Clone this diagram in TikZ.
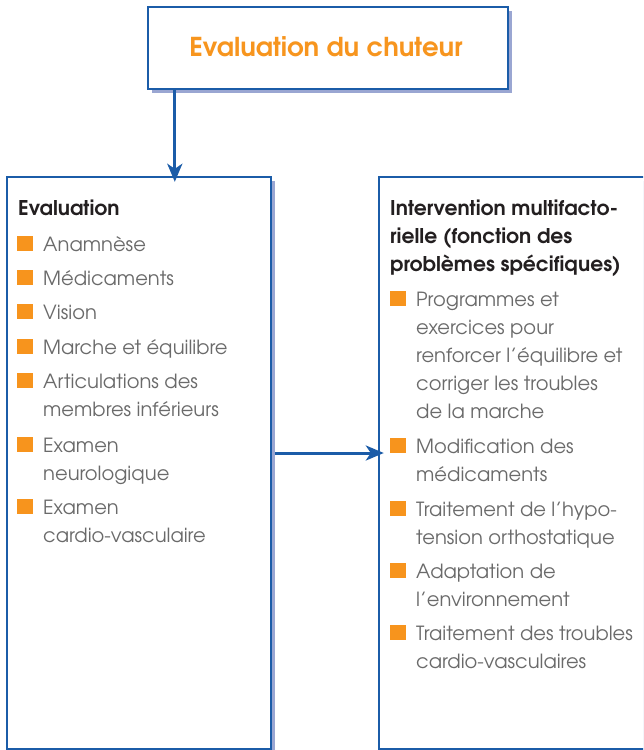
\documentclass[tikz,border=0pt]{standalone}
\usepackage{fontspec}
\setmainfont{texgyreadventor}[Extension=.otf, UprightFont=*-regular, BoldFont=*-bold]
\usetikzlibrary{shadows,arrows.meta,calc}
\definecolor{boxblue}{HTML}{1B5CA8}
\definecolor{shadowc}{HTML}{9AA6D2}
\definecolor{orangec}{HTML}{F7941D}
\definecolor{titleorange}{HTML}{F7951E}
\definecolor{graytext}{HTML}{6A6A6A}
\definecolor{headtext}{HTML}{231F20}
\tikzset{
  panel/.style={draw=boxblue, line width=2.4pt, fill=white, inner sep=0pt,
    drop shadow={shadow xshift=4pt, shadow yshift=-4pt, fill=shadowc, opacity=1}},
  arr/.style={draw=boxblue, line width=3pt, -{Stealth[length=18pt,width=15pt,inset=5pt]}},
  bul/.style={fill=orangec, inner sep=0pt, minimum width=16pt, minimum height=15pt, anchor=south west},
  item/.style={inner sep=0pt, anchor=base west, align=left, text=graytext,
    font=\fontsize{19.5}{28}\selectfont},
  head/.style={inner sep=0pt, anchor=base west, align=left, text=headtext,
    font=\fontsize{20.3}{28}\selectfont\bfseries},
}
\begin{document}
\begin{tikzpicture}[x=1pt,y=-1pt]
\useasboundingbox (0,0) rectangle (643,750);
\clip (0,0) rectangle (643,750);
% boxes
\node[panel, minimum width=360pt, minimum height=82pt] (top) at (328,48) {};
\node[text=titleorange, font=\fontsize{26}{30}\selectfont\bfseries, inner sep=0pt, anchor=base] (title) at (326,56) {Evaluation du chuteur};
\node[panel, minimum width=264pt, minimum height=572pt] (left) at (139,463) {};
\node[panel, minimum width=290pt, minimum height=572pt] (right) at (524,463) {};
% arrows
\draw[arr] ($(top.south west)+(28,0)$) -- ($(left.north west)+(169,6)$);
\draw[arr] ($(left.east)+(3,-10)$) -- ($(right.west)+(6,-10)$);
% left content
\node[head] (lh) at (18,215) {Evaluation};
\node[bul] (lb1) at (17,251) {};
\node[item] (li1) at (43,251) {Anamnèse};
\node[bul] (lb2) at (17,285) {};
\node[item] (li2) at (43,285) {Médicaments};
\node[bul] (lb3) at (17,319) {};
\node[item] (li3) at (43,319) {Vision};
\node[bul] (lb4) at (17,354) {};
\node[item] (li4) at (43,354) {Marche et équilibre};
\node[bul] (lb5) at (17,388) {};
\node[item] (li5) at (43,416) {Articulations des\\membres inférieurs};
\node[bul] (lb6) at (17,452) {};
\node[item] (li6) at (43,480) {Examen\\neurologique};
\node[bul] (lb7) at (17,514) {};
\node[item] (li7) at (43,542) {Examen\\cardio-vasculaire};
% right content
\node[head] (rh) at (390,271) {Intervention multifacto-\\rielle (fonction des\\problèmes spécifiques)};
\node[bul] (rb1) at (390,306) {};
\node[item] (ri1) at (416,418) {Programmes et\\exercices pour\\renforcer l’équilibre et\\corriger les troubles\\de la marche};
\node[bul] (rb2) at (390,453) {};
\node[item] (ri2) at (416,481) {Modification des\\médicaments};
\node[bul] (rb3) at (390,516) {};
\node[item] (ri3) at (416,544) {Traitement de l’hypo-\\tension orthostatique};
\node[bul] (rb4) at (390,578) {};
\node[item] (ri4) at (416,606) {Adaptation de\\l’environnement};
\node[bul] (rb5) at (390,640) {};
\node[item] (ri5) at (416,668) {Traitement des troubles\\cardio-vasculaires};
\end{tikzpicture}
\end{document}
